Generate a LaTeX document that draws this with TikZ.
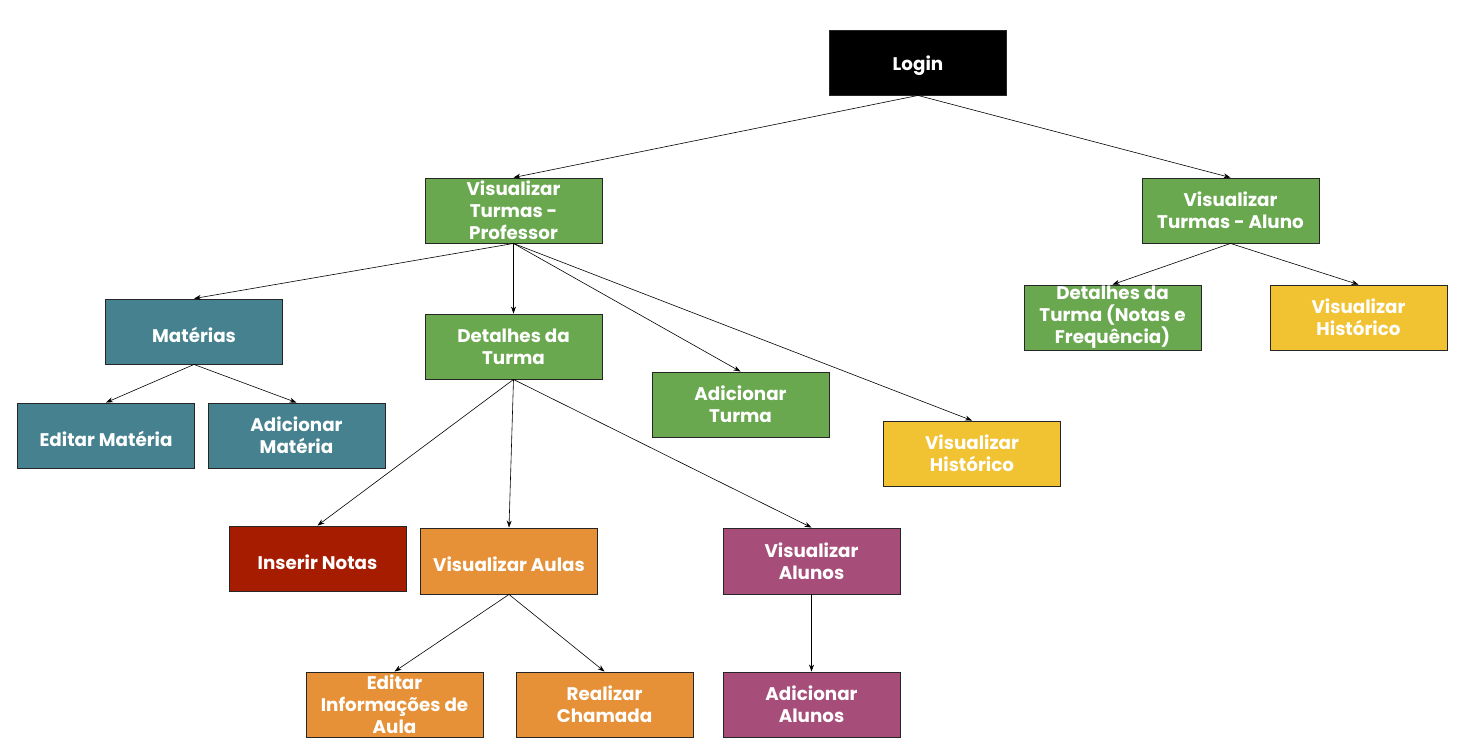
\documentclass[tikz,border=0pt]{standalone}
\usepackage{fontspec}
\setmainfont{Poppins}
\usetikzlibrary{arrows.meta}
\definecolor{cgreen}{HTML}{6AA84F}
\definecolor{cteal}{HTML}{45818E}
\definecolor{cred}{HTML}{A61C00}
\definecolor{corange}{HTML}{E69138}
\definecolor{cpurple}{HTML}{A64D79}
\definecolor{cyellow}{HTML}{F1C232}
\newcommand{\lowr}{\rule{0pt}{22pt}}
\tikzset{
  box/.style={draw=black!85, line width=0.9pt, minimum width=177pt, minimum height=65pt,
    inner sep=0pt, align=center, text=white,
    font=\fontsize{18.3}{22}\selectfont\bfseries,
    execute at begin node=\lowr},
  conn/.style={-{Stealth[length=7pt,width=5pt]}, line width=0.6pt, black}
}
\begin{document}
\begin{tikzpicture}[x=1pt,y=-1pt]
\useasboundingbox[fill=white] (0,0) rectangle (1481,750);
\node[box, fill=black] (login) at (918,62.5) {Login};
\node[box, fill=cgreen] (vtp) at (513.5,210.5) {Visualizar\\Turmas -\\Professor};
\node[box, fill=cgreen] (vta) at (1230.5,210.5) {Visualizar\\Turmas - Aluno};
\node[box, fill=cteal] (mat) at (194,331.5) {Matérias};
\node[box, fill=cgreen] (det) at (513.5,346.5) {Detalhes da\\Turma};
\node[box, fill=cgreen] (adt) at (740.5,404.5) {Adicionar\\Turma};
\node[box, fill=cyellow] (vhp) at (972,453.5) {Visualizar\\Histórico};
\node[box, fill=cteal] (edm) at (106,435.5) {Editar Matéria};
\node[box, fill=cteal] (adm) at (296.5,435.5) {Adicionar\\Matéria};
\node[box, fill=cgreen] (dta) at (1112.5,317.5) {Detalhes da\\Turma (Notas e\\Frequência)};
\node[box, fill=cyellow] (vha) at (1358.5,317.5) {Visualizar\\Histórico};
\node[box, fill=cred] (ins) at (317.5,558.5) {Inserir Notas};
\node[box, fill=corange, minimum height=66pt] (vau) at (509,561) {Visualizar Aulas};
\node[box, fill=cpurple, minimum height=66pt] (val) at (811.5,561) {Visualizar\\Alunos};
\node[box, fill=corange] (eia) at (394.5,704.5) {Editar\\Informações de\\Aula};
\node[box, fill=corange] (rch) at (604.5,704.5) {Realizar\\Chamada};
\node[box, fill=cpurple] (ada) at (811.5,704.5) {Adicionar\\Alunos};
\draw[conn] (login.south) -- (vtp.north);
\draw[conn] (login.south) -- (vta.north);
\draw[conn] (vtp.south) -- (mat.north);
\draw[conn] (vtp.south) -- (det.north);
\draw[conn] (vtp.south) -- (adt.north);
\draw[conn] (vtp.south) -- (vhp.north);
\draw[conn] (mat.south) -- (edm.north);
\draw[conn] (mat.south) -- (adm.north);
\draw[conn] (vta.south) -- (dta.north);
\draw[conn] (vta.south) -- (vha.north);
\draw[conn] (det.south) -- (ins.north);
\draw[conn] (det.south) -- (vau.north);
\draw[conn] (det.south) -- (val.north);
\draw[conn] (vau.south) -- (eia.north);
\draw[conn] (vau.south) -- (rch.north);
\draw[conn] (val.south) -- (ada.north);
\end{tikzpicture}
\end{document}
